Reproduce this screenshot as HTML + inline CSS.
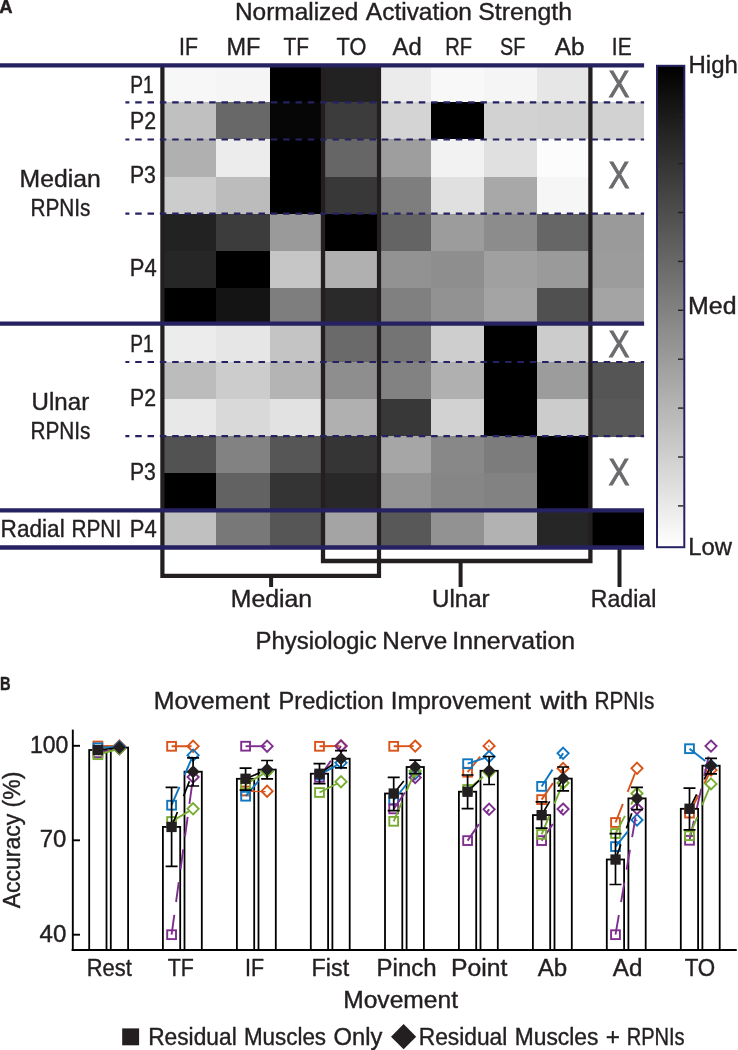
<!DOCTYPE html>
<html lang="en"><head><meta charset="utf-8"><title>Figure</title>
<style>
html,body{margin:0;padding:0;background:#fff}
svg{display:block;font-family:'Liberation Sans', sans-serif}
text{stroke:#231f20;stroke-width:0.4px;paint-order:stroke fill}
text.x{stroke:#6b6b6e;stroke-width:0.9px}
</style></head>
<body>
<svg width="738" height="1050" viewBox="0 0 738 1050">
<rect width="738" height="1050" fill="#fff"/>
<g shape-rendering="crispEdges">
<rect x="162.30" y="65.30" width="53.90" height="37.39" fill="#f7f7f7"/>
<rect x="215.90" y="65.30" width="54.50" height="37.39" fill="#f5f5f5"/>
<rect x="270.10" y="65.30" width="53.20" height="37.39" fill="#000000"/>
<rect x="323.00" y="65.30" width="55.80" height="37.39" fill="#222222"/>
<rect x="378.50" y="65.30" width="52.50" height="37.39" fill="#ebebeb"/>
<rect x="430.70" y="65.30" width="53.40" height="37.39" fill="#f8f8f8"/>
<rect x="483.80" y="65.30" width="53.40" height="37.39" fill="#f5f5f5"/>
<rect x="536.90" y="65.30" width="53.80" height="37.39" fill="#e6e6e6"/>
<rect x="162.30" y="102.39" width="53.90" height="37.39" fill="#c0c0c0"/>
<rect x="215.90" y="102.39" width="54.50" height="37.39" fill="#686868"/>
<rect x="270.10" y="102.39" width="53.20" height="37.39" fill="#060606"/>
<rect x="323.00" y="102.39" width="55.80" height="37.39" fill="#3c3c3c"/>
<rect x="378.50" y="102.39" width="52.50" height="37.39" fill="#d4d4d4"/>
<rect x="430.70" y="102.39" width="53.40" height="37.39" fill="#000000"/>
<rect x="483.80" y="102.39" width="53.40" height="37.39" fill="#d2d2d2"/>
<rect x="536.90" y="102.39" width="53.80" height="37.39" fill="#d0d0d0"/>
<rect x="590.40" y="102.39" width="53.70" height="37.39" fill="#d2d2d2"/>
<rect x="162.30" y="139.48" width="53.90" height="37.39" fill="#b0b0b0"/>
<rect x="215.90" y="139.48" width="54.50" height="37.39" fill="#ececec"/>
<rect x="270.10" y="139.48" width="53.20" height="37.39" fill="#000000"/>
<rect x="323.00" y="139.48" width="55.80" height="37.39" fill="#666666"/>
<rect x="378.50" y="139.48" width="52.50" height="37.39" fill="#9e9e9e"/>
<rect x="430.70" y="139.48" width="53.40" height="37.39" fill="#f2f2f2"/>
<rect x="483.80" y="139.48" width="53.40" height="37.39" fill="#e0e0e0"/>
<rect x="536.90" y="139.48" width="53.80" height="37.39" fill="#fcfcfc"/>
<rect x="162.30" y="176.57" width="53.90" height="37.39" fill="#cccccc"/>
<rect x="215.90" y="176.57" width="54.50" height="37.39" fill="#bcbcbc"/>
<rect x="270.10" y="176.57" width="53.20" height="37.39" fill="#000000"/>
<rect x="323.00" y="176.57" width="55.80" height="37.39" fill="#383838"/>
<rect x="378.50" y="176.57" width="52.50" height="37.39" fill="#7e7e7e"/>
<rect x="430.70" y="176.57" width="53.40" height="37.39" fill="#e0e0e0"/>
<rect x="483.80" y="176.57" width="53.40" height="37.39" fill="#a8a8a8"/>
<rect x="536.90" y="176.57" width="53.80" height="37.39" fill="#f6f6f6"/>
<rect x="162.30" y="213.66" width="53.90" height="37.39" fill="#222222"/>
<rect x="215.90" y="213.66" width="54.50" height="37.39" fill="#3c3c3c"/>
<rect x="270.10" y="213.66" width="53.20" height="37.39" fill="#9a9a9a"/>
<rect x="323.00" y="213.66" width="55.80" height="37.39" fill="#000000"/>
<rect x="378.50" y="213.66" width="52.50" height="37.39" fill="#646464"/>
<rect x="430.70" y="213.66" width="53.40" height="37.39" fill="#9c9c9c"/>
<rect x="483.80" y="213.66" width="53.40" height="37.39" fill="#8c8c8c"/>
<rect x="536.90" y="213.66" width="53.80" height="37.39" fill="#666666"/>
<rect x="590.40" y="213.66" width="53.70" height="37.39" fill="#9a9a9a"/>
<rect x="162.30" y="250.75" width="53.90" height="37.39" fill="#262626"/>
<rect x="215.90" y="250.75" width="54.50" height="37.39" fill="#000000"/>
<rect x="270.10" y="250.75" width="53.20" height="37.39" fill="#c6c6c6"/>
<rect x="323.00" y="250.75" width="55.80" height="37.39" fill="#b0b0b0"/>
<rect x="378.50" y="250.75" width="52.50" height="37.39" fill="#929292"/>
<rect x="430.70" y="250.75" width="53.40" height="37.39" fill="#8e8e8e"/>
<rect x="483.80" y="250.75" width="53.40" height="37.39" fill="#a0a0a0"/>
<rect x="536.90" y="250.75" width="53.80" height="37.39" fill="#9a9a9a"/>
<rect x="590.40" y="250.75" width="53.70" height="37.39" fill="#9c9c9c"/>
<rect x="162.30" y="287.84" width="53.90" height="37.39" fill="#000000"/>
<rect x="215.90" y="287.84" width="54.50" height="37.39" fill="#141414"/>
<rect x="270.10" y="287.84" width="53.20" height="37.39" fill="#7e7e7e"/>
<rect x="323.00" y="287.84" width="55.80" height="37.39" fill="#2a2a2a"/>
<rect x="378.50" y="287.84" width="52.50" height="37.39" fill="#808080"/>
<rect x="430.70" y="287.84" width="53.40" height="37.39" fill="#929292"/>
<rect x="483.80" y="287.84" width="53.40" height="37.39" fill="#a4a4a4"/>
<rect x="536.90" y="287.84" width="53.80" height="37.39" fill="#505050"/>
<rect x="590.40" y="287.84" width="53.70" height="37.39" fill="#a4a4a4"/>
<rect x="162.30" y="324.93" width="53.90" height="37.39" fill="#ececec"/>
<rect x="215.90" y="324.93" width="54.50" height="37.39" fill="#e6e6e6"/>
<rect x="270.10" y="324.93" width="53.20" height="37.39" fill="#c4c4c4"/>
<rect x="323.00" y="324.93" width="55.80" height="37.39" fill="#6a6a6a"/>
<rect x="378.50" y="324.93" width="52.50" height="37.39" fill="#747474"/>
<rect x="430.70" y="324.93" width="53.40" height="37.39" fill="#cecece"/>
<rect x="483.80" y="324.93" width="53.40" height="37.39" fill="#000000"/>
<rect x="536.90" y="324.93" width="53.80" height="37.39" fill="#cccccc"/>
<rect x="162.30" y="362.02" width="53.90" height="37.39" fill="#bcbcbc"/>
<rect x="215.90" y="362.02" width="54.50" height="37.39" fill="#cccccc"/>
<rect x="270.10" y="362.02" width="53.20" height="37.39" fill="#b4b4b4"/>
<rect x="323.00" y="362.02" width="55.80" height="37.39" fill="#8e8e8e"/>
<rect x="378.50" y="362.02" width="52.50" height="37.39" fill="#828282"/>
<rect x="430.70" y="362.02" width="53.40" height="37.39" fill="#b0b0b0"/>
<rect x="483.80" y="362.02" width="53.40" height="37.39" fill="#000000"/>
<rect x="536.90" y="362.02" width="53.80" height="37.39" fill="#9c9c9c"/>
<rect x="590.40" y="362.02" width="53.70" height="37.39" fill="#555555"/>
<rect x="162.30" y="399.11" width="53.90" height="37.39" fill="#e8e8e8"/>
<rect x="215.90" y="399.11" width="54.50" height="37.39" fill="#d9d9d9"/>
<rect x="270.10" y="399.11" width="53.20" height="37.39" fill="#e2e2e2"/>
<rect x="323.00" y="399.11" width="55.80" height="37.39" fill="#b0b0b0"/>
<rect x="378.50" y="399.11" width="52.50" height="37.39" fill="#383838"/>
<rect x="430.70" y="399.11" width="53.40" height="37.39" fill="#d2d2d2"/>
<rect x="483.80" y="399.11" width="53.40" height="37.39" fill="#000000"/>
<rect x="536.90" y="399.11" width="53.80" height="37.39" fill="#cccccc"/>
<rect x="590.40" y="399.11" width="53.70" height="37.39" fill="#585858"/>
<rect x="162.30" y="436.20" width="53.90" height="37.39" fill="#525252"/>
<rect x="215.90" y="436.20" width="54.50" height="37.39" fill="#828282"/>
<rect x="270.10" y="436.20" width="53.20" height="37.39" fill="#565656"/>
<rect x="323.00" y="436.20" width="55.80" height="37.39" fill="#353535"/>
<rect x="378.50" y="436.20" width="52.50" height="37.39" fill="#a6a6a6"/>
<rect x="430.70" y="436.20" width="53.40" height="37.39" fill="#888888"/>
<rect x="483.80" y="436.20" width="53.40" height="37.39" fill="#7c7c7c"/>
<rect x="536.90" y="436.20" width="53.80" height="37.39" fill="#000000"/>
<rect x="162.30" y="473.29" width="53.90" height="37.39" fill="#000000"/>
<rect x="215.90" y="473.29" width="54.50" height="37.39" fill="#626262"/>
<rect x="270.10" y="473.29" width="53.20" height="37.39" fill="#343434"/>
<rect x="323.00" y="473.29" width="55.80" height="37.39" fill="#282828"/>
<rect x="378.50" y="473.29" width="52.50" height="37.39" fill="#949494"/>
<rect x="430.70" y="473.29" width="53.40" height="37.39" fill="#868686"/>
<rect x="483.80" y="473.29" width="53.40" height="37.39" fill="#828282"/>
<rect x="536.90" y="473.29" width="53.80" height="37.39" fill="#000000"/>
<rect x="162.30" y="510.38" width="53.90" height="37.39" fill="#c0c0c0"/>
<rect x="215.90" y="510.38" width="54.50" height="37.39" fill="#787878"/>
<rect x="270.10" y="510.38" width="53.20" height="37.39" fill="#565656"/>
<rect x="323.00" y="510.38" width="55.80" height="37.39" fill="#a4a4a4"/>
<rect x="378.50" y="510.38" width="52.50" height="37.39" fill="#585858"/>
<rect x="430.70" y="510.38" width="53.40" height="37.39" fill="#929292"/>
<rect x="483.80" y="510.38" width="53.40" height="37.39" fill="#b2b2b2"/>
<rect x="536.90" y="510.38" width="53.80" height="37.39" fill="#262626"/>
<rect x="590.40" y="510.38" width="53.70" height="37.39" fill="#000000"/>
</g>
<g fill="none" stroke="#231f20" stroke-width="4">
<path d="M162.4 65.3 V575.8 H379 V65.3" stroke-width="4.2"/>
<path d="M323 65.3 V561 H590.4 V65.3" stroke-width="4.3"/>
</g>
<g stroke="#231f20" stroke-width="4">
<path d="M271.1 575 V587"/><path d="M460.6 561 V587"/><path d="M619.5 548 V587"/>
</g>
<g stroke="#262262" stroke-width="2.2" stroke-dasharray="6.5 5.83" stroke-dashoffset="2.53">
<path d="M125.4 102.4 H644.1"/>
<path d="M125.4 139.5 H644.1"/>
<path d="M125.4 213.7 H644.1"/>
<path d="M125.4 362.0 H644.1"/>
<path d="M125.4 436.2 H644.1"/>
</g>
<g stroke="#262262" stroke-width="4.3">
<path d="M0 65.3 H644.1"/>
<path d="M0 323.7 H644.1"/>
<path d="M0 510.3 H644.1"/>
<path d="M0 547.5 H644.1"/>
</g>
<defs><linearGradient id="cb" x1="0" y1="0" x2="0" y2="1"><stop offset="0" stop-color="#000"/><stop offset="1" stop-color="#fff"/></linearGradient></defs>
<rect x="657" y="65.8" width="27.3" height="481.4" fill="url(#cb)" stroke="#262262" stroke-width="2"/>
<g stroke="#231f20" stroke-width="1.4">
<path d="M678 114.7 H683.4"/>
<path d="M678 163.6 H683.4"/>
<path d="M678 212.5 H683.4"/>
<path d="M678 261.4 H683.4"/>
<path d="M678 310.3 H683.4"/>
<path d="M678 359.2 H683.4"/>
<path d="M678 408.1 H683.4"/>
<path d="M678 457.0 H683.4"/>
<path d="M678 505.9 H683.4"/>
</g>
<text x="-0.76" y="13.0" font-size="18.3" textLength="13.37" lengthAdjust="spacingAndGlyphs" font-weight="bold" fill="#231f20">A</text>
<text x="0.09" y="689.8" font-size="18.3" textLength="10.61" lengthAdjust="spacingAndGlyphs" font-weight="bold" fill="#231f20">B</text>
<text x="234.99" y="19.8" font-size="24.4" textLength="123.47" lengthAdjust="spacingAndGlyphs" fill="#231f20">Normalized</text>
<text x="365.87" y="19.8" font-size="24.4" textLength="106.07" lengthAdjust="spacingAndGlyphs" fill="#231f20">Activation</text>
<text x="478.23" y="19.8" font-size="24.4" textLength="93.76" lengthAdjust="spacingAndGlyphs" fill="#231f20">Strength</text>
<text x="179.10" y="55.2" font-size="24.4" textLength="18.89" lengthAdjust="spacingAndGlyphs" fill="#231f20">IF</text>
<text x="226.50" y="55.2" font-size="24.4" textLength="33.91" lengthAdjust="spacingAndGlyphs" fill="#231f20">MF</text>
<text x="283.59" y="55.2" font-size="24.4" textLength="25.44" lengthAdjust="spacingAndGlyphs" fill="#231f20">TF</text>
<text x="336.58" y="55.2" font-size="24.4" textLength="29.75" lengthAdjust="spacingAndGlyphs" fill="#231f20">TO</text>
<text x="392.50" y="55.2" font-size="24.4" textLength="29.15" lengthAdjust="spacingAndGlyphs" fill="#231f20">Ad</text>
<text x="445.19" y="55.2" font-size="24.4" textLength="26.79" lengthAdjust="spacingAndGlyphs" fill="#231f20">RF</text>
<text x="500.08" y="55.2" font-size="24.4" textLength="25.25" lengthAdjust="spacingAndGlyphs" fill="#231f20">SF</text>
<text x="554.72" y="55.2" font-size="24.4" textLength="29.64" lengthAdjust="spacingAndGlyphs" fill="#231f20">Ab</text>
<text x="611.85" y="55.2" font-size="24.4" textLength="19.78" lengthAdjust="spacingAndGlyphs" fill="#231f20">IE</text>
<text x="130.25" y="93.1" font-size="24.4" textLength="23.46" lengthAdjust="spacingAndGlyphs" fill="#231f20">P1</text>
<text x="129.98" y="129.1" font-size="24.4" textLength="26.05" lengthAdjust="spacingAndGlyphs" fill="#231f20">P2</text>
<text x="129.97" y="183.3" font-size="24.4" textLength="25.95" lengthAdjust="spacingAndGlyphs" fill="#231f20">P3</text>
<text x="129.86" y="275.8" font-size="24.4" textLength="26.91" lengthAdjust="spacingAndGlyphs" fill="#231f20">P4</text>
<text x="130.25" y="352.3" font-size="24.4" textLength="23.46" lengthAdjust="spacingAndGlyphs" fill="#231f20">P1</text>
<text x="129.98" y="405.5" font-size="24.4" textLength="26.05" lengthAdjust="spacingAndGlyphs" fill="#231f20">P2</text>
<text x="129.97" y="480.1" font-size="24.4" textLength="25.95" lengthAdjust="spacingAndGlyphs" fill="#231f20">P3</text>
<text x="129.86" y="537.3" font-size="24.4" textLength="26.91" lengthAdjust="spacingAndGlyphs" fill="#231f20">P4</text>
<text x="19.63" y="186.7" font-size="24.4" textLength="81.17" lengthAdjust="spacingAndGlyphs" fill="#231f20">Median</text>
<text x="30.45" y="216.4" font-size="24.4" textLength="60.05" lengthAdjust="spacingAndGlyphs" fill="#231f20">RPNIs</text>
<text x="31.61" y="409.5" font-size="24.4" textLength="57.56" lengthAdjust="spacingAndGlyphs" fill="#231f20">Ulnar</text>
<text x="30.45" y="439.0" font-size="24.4" textLength="60.05" lengthAdjust="spacingAndGlyphs" fill="#231f20">RPNIs</text>
<text x="0.58" y="537.3" font-size="24.4" textLength="64.16" lengthAdjust="spacingAndGlyphs" fill="#231f20">Radial</text>
<text x="71.47" y="537.3" font-size="24.4" textLength="49.72" lengthAdjust="spacingAndGlyphs" fill="#231f20">RPNI</text>
<text x="688.56" y="73.2" font-size="24.4" textLength="49.30" lengthAdjust="spacingAndGlyphs" fill="#231f20">High</text>
<text x="688.13" y="313.9" font-size="24.4" textLength="48.41" lengthAdjust="spacingAndGlyphs" fill="#231f20">Med</text>
<text x="688.27" y="554.5" font-size="24.4" textLength="43.62" lengthAdjust="spacingAndGlyphs" fill="#231f20">Low</text>
<text x="608.59" y="96.8" font-size="36.6" textLength="20.95" lengthAdjust="spacingAndGlyphs" fill="#6b6b6e" class="x">X</text>
<text x="608.59" y="187.7" font-size="36.6" textLength="20.95" lengthAdjust="spacingAndGlyphs" fill="#6b6b6e" class="x">X</text>
<text x="608.59" y="357.4" font-size="36.6" textLength="20.95" lengthAdjust="spacingAndGlyphs" fill="#6b6b6e" class="x">X</text>
<text x="608.59" y="484.5" font-size="36.6" textLength="20.95" lengthAdjust="spacingAndGlyphs" fill="#6b6b6e" class="x">X</text>
<text x="230.77" y="607.3" font-size="24.4" textLength="81.30" lengthAdjust="spacingAndGlyphs" fill="#231f20">Median</text>
<text x="432.04" y="607.3" font-size="24.4" textLength="57.59" lengthAdjust="spacingAndGlyphs" fill="#231f20">Ulnar</text>
<text x="590.83" y="607.3" font-size="24.4" textLength="65.46" lengthAdjust="spacingAndGlyphs" fill="#231f20">Radial</text>
<text x="255.43" y="648.6" font-size="24.4" textLength="121.19" lengthAdjust="spacingAndGlyphs" fill="#231f20">Physiologic</text>
<text x="382.34" y="648.6" font-size="24.4" textLength="64.84" lengthAdjust="spacingAndGlyphs" fill="#231f20">Nerve</text>
<text x="452.31" y="648.6" font-size="24.4" textLength="122.89" lengthAdjust="spacingAndGlyphs" fill="#231f20">Innervation</text>
<text x="153.74" y="709.4" font-size="24.4" textLength="116.18" lengthAdjust="spacingAndGlyphs" fill="#231f20">Movement</text>
<text x="278.56" y="709.4" font-size="24.4" textLength="105.20" lengthAdjust="spacingAndGlyphs" fill="#231f20">Prediction</text>
<text x="390.71" y="709.4" font-size="24.4" textLength="140.26" lengthAdjust="spacingAndGlyphs" fill="#231f20">Improvement</text>
<text x="540.30" y="709.4" font-size="24.4" textLength="47.69" lengthAdjust="spacingAndGlyphs" fill="#231f20">with</text>
<text x="594.45" y="709.4" font-size="24.4" textLength="60.05" lengthAdjust="spacingAndGlyphs" fill="#231f20">RPNIs</text>
<text x="29.94" y="752.7" font-size="23.2" textLength="38.39" lengthAdjust="spacingAndGlyphs" fill="#231f20">100</text>
<text x="39.72" y="846.7" font-size="23.2" textLength="26.58" lengthAdjust="spacingAndGlyphs" fill="#231f20">70</text>
<text x="39.57" y="942.2" font-size="23.2" textLength="26.81" lengthAdjust="spacingAndGlyphs" fill="#231f20">40</text>
<text transform="translate(20.3 908.3) rotate(-90)" font-size="24.4" textLength="136.6" lengthAdjust="spacingAndGlyphs" fill="#231f20">Accuracy (%)</text>
<text x="86.73" y="975.8" font-size="24.4" textLength="45.13" lengthAdjust="spacingAndGlyphs" fill="#231f20">Rest</text>
<text x="167.70" y="975.8" font-size="24.4" textLength="26.15" lengthAdjust="spacingAndGlyphs" fill="#231f20">TF</text>
<text x="245.12" y="975.8" font-size="24.4" textLength="19.03" lengthAdjust="spacingAndGlyphs" fill="#231f20">IF</text>
<text x="311.61" y="975.8" font-size="24.4" textLength="37.51" lengthAdjust="spacingAndGlyphs" fill="#231f20">Fist</text>
<text x="376.60" y="975.8" font-size="24.4" textLength="60.09" lengthAdjust="spacingAndGlyphs" fill="#231f20">Pinch</text>
<text x="451.04" y="975.8" font-size="24.4" textLength="56.46" lengthAdjust="spacingAndGlyphs" fill="#231f20">Point</text>
<text x="537.68" y="975.8" font-size="24.4" textLength="29.49" lengthAdjust="spacingAndGlyphs" fill="#231f20">Ab</text>
<text x="612.77" y="975.8" font-size="24.4" textLength="29.61" lengthAdjust="spacingAndGlyphs" fill="#231f20">Ad</text>
<text x="684.64" y="975.8" font-size="24.4" textLength="30.64" lengthAdjust="spacingAndGlyphs" fill="#231f20">TO</text>
<text x="343.23" y="1007.7" font-size="24.4" textLength="114.78" lengthAdjust="spacingAndGlyphs" fill="#231f20">Movement</text>
<rect x="122.2" y="1028.4" width="16.9" height="16.9" fill="#231f20"/>
<text x="148.17" y="1045.0" font-size="24.4" textLength="88.54" lengthAdjust="spacingAndGlyphs" fill="#231f20">Residual</text>
<text x="243.89" y="1045.0" font-size="24.4" textLength="82.18" lengthAdjust="spacingAndGlyphs" fill="#231f20">Muscles</text>
<text x="333.60" y="1045.0" font-size="24.4" textLength="48.83" lengthAdjust="spacingAndGlyphs" fill="#231f20">Only</text>
<path d="M403.6 1024.1 L416.2 1036.7 L403.6 1049.3 L391 1036.7 Z" fill="#231f20"/>
<text x="418.72" y="1045.0" font-size="24.4" textLength="88.62" lengthAdjust="spacingAndGlyphs" fill="#231f20">Residual</text>
<text x="514.72" y="1045.0" font-size="24.4" textLength="83.73" lengthAdjust="spacingAndGlyphs" fill="#231f20">Muscles</text>
<text x="605.83" y="1045.0" font-size="24.4" textLength="14.27" lengthAdjust="spacingAndGlyphs" fill="#231f20">+</text>
<text x="626.65" y="1045.0" font-size="24.4" textLength="58.00" lengthAdjust="spacingAndGlyphs" fill="#231f20">RPNIs</text>
<g fill="none" stroke="#000" stroke-width="1.9">
<path d="M72.8 729.6 V951"/><path d="M71.8 950 H736.5" stroke-width="2.1"/>
<path d="M72.8 745.8 H80"/><path d="M72.8 840.3 H80"/><path d="M72.8 934.7 H80"/>
</g>
<g fill="#fff" stroke="#000" stroke-width="1.8">
<rect x="89.2" y="750.0" width="17.3" height="200.0"/>
<rect x="110.8" y="747.6" width="17.3" height="202.4"/>
<rect x="162.9" y="826.9" width="17.3" height="123.1"/>
<rect x="184.5" y="771.7" width="17.3" height="178.3"/>
<rect x="236.9" y="778.8" width="17.3" height="171.2"/>
<rect x="258.5" y="769.6" width="17.3" height="180.4"/>
<rect x="310.8" y="773.7" width="17.3" height="176.3"/>
<rect x="332.4" y="758.7" width="17.3" height="191.3"/>
<rect x="385.0" y="793.5" width="17.3" height="156.5"/>
<rect x="406.6" y="767.0" width="17.3" height="183.0"/>
<rect x="458.9" y="791.7" width="17.3" height="158.3"/>
<rect x="480.5" y="770.8" width="17.3" height="179.2"/>
<rect x="532.9" y="815.1" width="17.3" height="134.9"/>
<rect x="554.5" y="778.6" width="17.3" height="171.4"/>
<rect x="606.8" y="859.5" width="17.3" height="90.5"/>
<rect x="628.4" y="798.4" width="17.3" height="151.6"/>
<rect x="680.8" y="808.8" width="17.3" height="141.2"/>
<rect x="702.4" y="765.7" width="17.3" height="184.3"/>
</g>
<path d="M71.8 950 H736.5" stroke="#000" stroke-width="2.1"/>
<g fill="none" stroke="#d95319" stroke-width="1.9">
<path d="M97.9 746.0 L119.4 746.0" stroke-dasharray="20 13"/>
<rect x="93.5" y="741.6" width="8.8" height="8.8"/>
<path d="M119.4 740.4 L125.0 746.0 L119.4 751.6 L113.8 746.0 Z"/>
</g>
<g fill="none" stroke="#0f76c0" stroke-width="1.9">
<path d="M97.9 747.8 L119.4 746.8" stroke-dasharray="20 13"/>
<rect x="93.5" y="743.4" width="8.8" height="8.8"/>
<path d="M119.4 741.2 L125.0 746.8 L119.4 752.4 L113.8 746.8 Z"/>
</g>
<g fill="none" stroke="#7e2f8e" stroke-width="1.9">
<path d="M97.9 752.8 L119.4 748.8" stroke-dasharray="20 13"/>
<rect x="93.5" y="748.4" width="8.8" height="8.8"/>
<path d="M119.4 743.2 L125.0 748.8 L119.4 754.4 L113.8 748.8 Z"/>
</g>
<g fill="none" stroke="#77ac30" stroke-width="1.9">
<path d="M97.9 754.7 L119.4 748.6" stroke-dasharray="20 13"/>
<rect x="93.5" y="750.3" width="8.8" height="8.8"/>
<path d="M119.4 743.0 L125.0 748.6 L119.4 754.2 L113.8 748.6 Z"/>
</g>
<g fill="none" stroke="#d95319" stroke-width="1.9">
<path d="M171.6 746.3 L193.1 746.2" stroke-dasharray="20 13"/>
<rect x="167.2" y="741.9" width="8.8" height="8.8"/>
<path d="M193.1 740.6 L198.7 746.2 L193.1 751.8 L187.5 746.2 Z"/>
</g>
<g fill="none" stroke="#0f76c0" stroke-width="1.9">
<path d="M171.6 805.2 L193.1 755.2" stroke-dasharray="20 13"/>
<rect x="167.2" y="800.8" width="8.8" height="8.8"/>
<path d="M193.1 749.6 L198.7 755.2 L193.1 760.8 L187.5 755.2 Z"/>
</g>
<g fill="none" stroke="#7e2f8e" stroke-width="1.9">
<path d="M171.6 934.7 L193.1 777.0" stroke-dasharray="20 13"/>
<rect x="167.2" y="930.3" width="8.8" height="8.8"/>
<path d="M193.1 771.4 L198.7 777.0 L193.1 782.6 L187.5 777.0 Z"/>
</g>
<g fill="none" stroke="#77ac30" stroke-width="1.9">
<path d="M171.6 821.5 L193.1 808.8" stroke-dasharray="20 13"/>
<rect x="167.2" y="817.1" width="8.8" height="8.8"/>
<path d="M193.1 803.2 L198.7 808.8 L193.1 814.4 L187.5 808.8 Z"/>
</g>
<g fill="none" stroke="#d95319" stroke-width="1.9">
<path d="M245.6 791.0 L267.1 791.2" stroke-dasharray="20 13"/>
<rect x="241.2" y="786.6" width="8.8" height="8.8"/>
<path d="M267.1 785.6 L272.7 791.2 L267.1 796.8 L261.5 791.2 Z"/>
</g>
<g fill="none" stroke="#0f76c0" stroke-width="1.9">
<path d="M245.6 796.2 L267.1 771.0" stroke-dasharray="20 13"/>
<rect x="241.2" y="791.8" width="8.8" height="8.8"/>
<path d="M267.1 765.4 L272.7 771.0 L267.1 776.6 L261.5 771.0 Z"/>
</g>
<g fill="none" stroke="#7e2f8e" stroke-width="1.9">
<path d="M245.6 746.2 L267.1 746.2" stroke-dasharray="20 13"/>
<rect x="241.2" y="741.8" width="8.8" height="8.8"/>
<path d="M267.1 740.6 L272.7 746.2 L267.1 751.8 L261.5 746.2 Z"/>
</g>
<g fill="none" stroke="#77ac30" stroke-width="1.9">
<path d="M245.6 784.4 L267.1 771.5" stroke-dasharray="20 13"/>
<rect x="241.2" y="780.0" width="8.8" height="8.8"/>
<path d="M267.1 765.9 L272.7 771.5 L267.1 777.1 L261.5 771.5 Z"/>
</g>
<g fill="none" stroke="#d95319" stroke-width="1.9">
<path d="M319.5 746.3 L341.0 746.0" stroke-dasharray="20 13"/>
<rect x="315.1" y="741.9" width="8.8" height="8.8"/>
<path d="M341.0 740.4 L346.6 746.0 L341.0 751.6 L335.4 746.0 Z"/>
</g>
<g fill="none" stroke="#0f76c0" stroke-width="1.9">
<path d="M319.5 775.0 L341.0 762.8" stroke-dasharray="20 13"/>
<rect x="315.1" y="770.6" width="8.8" height="8.8"/>
<path d="M341.0 757.2 L346.6 762.8 L341.0 768.4 L335.4 762.8 Z"/>
</g>
<g fill="none" stroke="#7e2f8e" stroke-width="1.9">
<path d="M319.5 777.3 L341.0 746.0" stroke-dasharray="20 13"/>
<rect x="315.1" y="772.9" width="8.8" height="8.8"/>
<path d="M341.0 740.4 L346.6 746.0 L341.0 751.6 L335.4 746.0 Z"/>
</g>
<g fill="none" stroke="#77ac30" stroke-width="1.9">
<path d="M319.5 792.5 L341.0 781.7" stroke-dasharray="20 13"/>
<rect x="315.1" y="788.1" width="8.8" height="8.8"/>
<path d="M341.0 776.1 L346.6 781.7 L341.0 787.3 L335.4 781.7 Z"/>
</g>
<g fill="none" stroke="#d95319" stroke-width="1.9">
<path d="M393.7 746.3 L415.2 746.1" stroke-dasharray="20 13"/>
<rect x="389.3" y="741.9" width="8.8" height="8.8"/>
<path d="M415.2 740.5 L420.8 746.1 L415.2 751.7 L409.6 746.1 Z"/>
</g>
<g fill="none" stroke="#0f76c0" stroke-width="1.9">
<path d="M393.7 800.0 L415.2 773.6" stroke-dasharray="20 13"/>
<rect x="389.3" y="795.6" width="8.8" height="8.8"/>
<path d="M415.2 768.0 L420.8 773.6 L415.2 779.2 L409.6 773.6 Z"/>
</g>
<g fill="none" stroke="#7e2f8e" stroke-width="1.9">
<path d="M393.7 808.9 L415.2 777.6" stroke-dasharray="20 13"/>
<rect x="389.3" y="804.5" width="8.8" height="8.8"/>
<path d="M415.2 772.0 L420.8 777.6 L415.2 783.2 L409.6 777.6 Z"/>
</g>
<g fill="none" stroke="#77ac30" stroke-width="1.9">
<path d="M393.7 821.3 L415.2 771.0" stroke-dasharray="20 13"/>
<rect x="389.3" y="816.9" width="8.8" height="8.8"/>
<path d="M415.2 765.4 L420.8 771.0 L415.2 776.6 L409.6 771.0 Z"/>
</g>
<g fill="none" stroke="#d95319" stroke-width="1.9">
<path d="M467.6 772.2 L489.1 745.9" stroke-dasharray="20 13"/>
<rect x="463.2" y="767.8" width="8.8" height="8.8"/>
<path d="M489.1 740.3 L494.7 745.9 L489.1 751.5 L483.5 745.9 Z"/>
</g>
<g fill="none" stroke="#0f76c0" stroke-width="1.9">
<path d="M467.6 763.7 L489.1 756.6" stroke-dasharray="20 13"/>
<rect x="463.2" y="759.3" width="8.8" height="8.8"/>
<path d="M489.1 751.0 L494.7 756.6 L489.1 762.2 L483.5 756.6 Z"/>
</g>
<g fill="none" stroke="#7e2f8e" stroke-width="1.9">
<path d="M467.6 840.6 L489.1 809.3" stroke-dasharray="20 13"/>
<rect x="463.2" y="836.2" width="8.8" height="8.8"/>
<path d="M489.1 803.7 L494.7 809.3 L489.1 814.9 L483.5 809.3 Z"/>
</g>
<g fill="none" stroke="#77ac30" stroke-width="1.9">
<path d="M467.6 789.5 L489.1 772.0" stroke-dasharray="20 13"/>
<rect x="463.2" y="785.1" width="8.8" height="8.8"/>
<path d="M489.1 766.4 L494.7 772.0 L489.1 777.6 L483.5 772.0 Z"/>
</g>
<g fill="none" stroke="#d95319" stroke-width="1.9">
<path d="M541.6 799.6 L563.1 768.4" stroke-dasharray="20 13"/>
<rect x="537.2" y="795.2" width="8.8" height="8.8"/>
<path d="M563.1 762.8 L568.7 768.4 L563.1 774.0 L557.5 768.4 Z"/>
</g>
<g fill="none" stroke="#0f76c0" stroke-width="1.9">
<path d="M541.6 786.4 L563.1 753.3" stroke-dasharray="20 13"/>
<rect x="537.2" y="782.0" width="8.8" height="8.8"/>
<path d="M563.1 747.7 L568.7 753.3 L563.1 758.9 L557.5 753.3 Z"/>
</g>
<g fill="none" stroke="#7e2f8e" stroke-width="1.9">
<path d="M541.6 840.6 L563.1 809.1" stroke-dasharray="20 13"/>
<rect x="537.2" y="836.2" width="8.8" height="8.8"/>
<path d="M563.1 803.5 L568.7 809.1 L563.1 814.7 L557.5 809.1 Z"/>
</g>
<g fill="none" stroke="#77ac30" stroke-width="1.9">
<path d="M541.6 834.4 L563.1 783.0" stroke-dasharray="20 13"/>
<rect x="537.2" y="830.0" width="8.8" height="8.8"/>
<path d="M563.1 777.4 L568.7 783.0 L563.1 788.6 L557.5 783.0 Z"/>
</g>
<g fill="none" stroke="#d95319" stroke-width="1.9">
<path d="M615.5 822.5 L637.0 768.3" stroke-dasharray="20 13"/>
<rect x="611.1" y="818.1" width="8.8" height="8.8"/>
<path d="M637.0 762.7 L642.6 768.3 L637.0 773.9 L631.4 768.3 Z"/>
</g>
<g fill="none" stroke="#0f76c0" stroke-width="1.9">
<path d="M615.5 846.6 L637.0 820.0" stroke-dasharray="20 13"/>
<rect x="611.1" y="842.2" width="8.8" height="8.8"/>
<path d="M637.0 814.4 L642.6 820.0 L637.0 825.6 L631.4 820.0 Z"/>
</g>
<g fill="none" stroke="#7e2f8e" stroke-width="1.9">
<path d="M615.5 934.7 L637.0 808.6" stroke-dasharray="20 13"/>
<rect x="611.1" y="930.3" width="8.8" height="8.8"/>
<path d="M637.0 803.0 L642.6 808.6 L637.0 814.2 L631.4 808.6 Z"/>
</g>
<g fill="none" stroke="#77ac30" stroke-width="1.9">
<path d="M615.5 833.5 L637.0 793.5" stroke-dasharray="20 13"/>
<rect x="611.1" y="829.1" width="8.8" height="8.8"/>
<path d="M637.0 787.9 L642.6 793.5 L637.0 799.1 L631.4 793.5 Z"/>
</g>
<g fill="none" stroke="#d95319" stroke-width="1.9">
<path d="M689.5 813.1 L711.0 770.0" stroke-dasharray="20 13"/>
<rect x="685.1" y="808.7" width="8.8" height="8.8"/>
<path d="M711.0 764.4 L716.6 770.0 L711.0 775.6 L705.4 770.0 Z"/>
</g>
<g fill="none" stroke="#0f76c0" stroke-width="1.9">
<path d="M689.5 748.7 L711.0 765.5" stroke-dasharray="20 13"/>
<rect x="685.1" y="744.3" width="8.8" height="8.8"/>
<path d="M711.0 759.9 L716.6 765.5 L711.0 771.1 L705.4 765.5 Z"/>
</g>
<g fill="none" stroke="#7e2f8e" stroke-width="1.9">
<path d="M689.5 840.3 L711.0 746.1" stroke-dasharray="20 13"/>
<rect x="685.1" y="835.9" width="8.8" height="8.8"/>
<path d="M711.0 740.5 L716.6 746.1 L711.0 751.7 L705.4 746.1 Z"/>
</g>
<g fill="none" stroke="#77ac30" stroke-width="1.9">
<path d="M689.5 835.7 L711.0 783.9" stroke-dasharray="20 13"/>
<rect x="685.1" y="831.3" width="8.8" height="8.8"/>
<path d="M711.0 778.3 L716.6 783.9 L711.0 789.5 L705.4 783.9 Z"/>
</g>
<g fill="none" stroke="#000" stroke-width="1.7">
<path d="M97.9 750.0 L119.4 747.6" stroke-dasharray="16 17"/>
</g>
<rect x="92.8" y="744.9" width="10.3" height="10.3" fill="#231f20"/>
<path d="M119.4 741.1 L125.9 747.6 L119.4 754.1 L112.9 747.6 Z" fill="#231f20"/>
<g fill="none" stroke="#000" stroke-width="1.7">
<path d="M171.6 826.9 L193.1 771.7" stroke-dasharray="16 17"/>
<path d="M171.6 787.4 V866.4 M165.6 787.4 H177.6 M165.6 866.4 H177.6"/>
<path d="M193.1 757.9 V786.0 M187.1 757.9 H199.1 M187.1 786.0 H199.1"/>
</g>
<rect x="166.4" y="821.8" width="10.3" height="10.3" fill="#231f20"/>
<path d="M193.1 765.2 L199.6 771.7 L193.1 778.2 L186.6 771.7 Z" fill="#231f20"/>
<g fill="none" stroke="#000" stroke-width="1.7">
<path d="M245.6 778.8 L267.1 769.6" stroke-dasharray="16 17"/>
<path d="M245.6 768.1 V790.2 M239.6 768.1 H251.6 M239.6 790.2 H251.6"/>
<path d="M267.1 760.5 V778.8 M261.1 760.5 H273.1 M261.1 778.8 H273.1"/>
</g>
<rect x="240.4" y="773.6" width="10.3" height="10.3" fill="#231f20"/>
<path d="M267.1 763.1 L273.6 769.6 L267.1 776.1 L260.6 769.6 Z" fill="#231f20"/>
<g fill="none" stroke="#000" stroke-width="1.7">
<path d="M319.5 773.7 L341.0 758.7" stroke-dasharray="16 17"/>
<path d="M319.5 763.6 V783.6 M313.5 763.6 H325.5 M313.5 783.6 H325.5"/>
<path d="M341.0 750.7 V767.9 M335.0 750.7 H347.0 M335.0 767.9 H347.0"/>
</g>
<rect x="314.4" y="768.6" width="10.3" height="10.3" fill="#231f20"/>
<path d="M341.0 752.2 L347.5 758.7 L341.0 765.2 L334.5 758.7 Z" fill="#231f20"/>
<g fill="none" stroke="#000" stroke-width="1.7">
<path d="M393.7 793.5 L415.2 767.0" stroke-dasharray="16 17"/>
<path d="M393.7 777.4 V810.7 M387.7 777.4 H399.7 M387.7 810.7 H399.7"/>
<path d="M415.2 760.2 V773.6 M409.2 760.2 H421.2 M409.2 773.6 H421.2"/>
</g>
<rect x="388.6" y="788.4" width="10.3" height="10.3" fill="#231f20"/>
<path d="M415.2 760.5 L421.7 767.0 L415.2 773.5 L408.7 767.0 Z" fill="#231f20"/>
<g fill="none" stroke="#000" stroke-width="1.7">
<path d="M467.6 791.7 L489.1 770.8" stroke-dasharray="16 17"/>
<path d="M467.6 775.0 V808.7 M461.6 775.0 H473.6 M461.6 808.7 H473.6"/>
<path d="M489.1 756.5 V784.5 M483.1 756.5 H495.1 M483.1 784.5 H495.1"/>
</g>
<rect x="462.4" y="786.6" width="10.3" height="10.3" fill="#231f20"/>
<path d="M489.1 764.3 L495.6 770.8 L489.1 777.3 L482.6 770.8 Z" fill="#231f20"/>
<g fill="none" stroke="#000" stroke-width="1.7">
<path d="M541.6 815.1 L563.1 778.6" stroke-dasharray="16 17"/>
<path d="M541.6 801.9 V828.1 M535.6 801.9 H547.6 M535.6 828.1 H547.6"/>
<path d="M563.1 767.0 V790.8 M557.1 767.0 H569.1 M557.1 790.8 H569.1"/>
</g>
<rect x="536.5" y="810.0" width="10.3" height="10.3" fill="#231f20"/>
<path d="M563.1 772.1 L569.6 778.6 L563.1 785.1 L556.6 778.6 Z" fill="#231f20"/>
<g fill="none" stroke="#000" stroke-width="1.7">
<path d="M615.5 859.5 L637.0 798.4" stroke-dasharray="16 17"/>
<path d="M615.5 833.6 V884.5 M609.5 833.6 H621.5 M609.5 884.5 H621.5"/>
<path d="M637.0 787.4 V809.7 M631.0 787.4 H643.0 M631.0 809.7 H643.0"/>
</g>
<rect x="610.4" y="854.4" width="10.3" height="10.3" fill="#231f20"/>
<path d="M637.0 791.9 L643.5 798.4 L637.0 804.9 L630.5 798.4 Z" fill="#231f20"/>
<g fill="none" stroke="#000" stroke-width="1.7">
<path d="M689.5 808.8 L711.0 765.7" stroke-dasharray="16 17"/>
<path d="M689.5 788.1 V829.9 M683.5 788.1 H695.5 M683.5 829.9 H695.5"/>
<path d="M711.0 758.4 V773.9 M705.0 758.4 H717.0 M705.0 773.9 H717.0"/>
</g>
<rect x="684.4" y="803.6" width="10.3" height="10.3" fill="#231f20"/>
<path d="M711.0 759.2 L717.5 765.7 L711.0 772.2 L704.5 765.7 Z" fill="#231f20"/>
</svg>
</body></html>
